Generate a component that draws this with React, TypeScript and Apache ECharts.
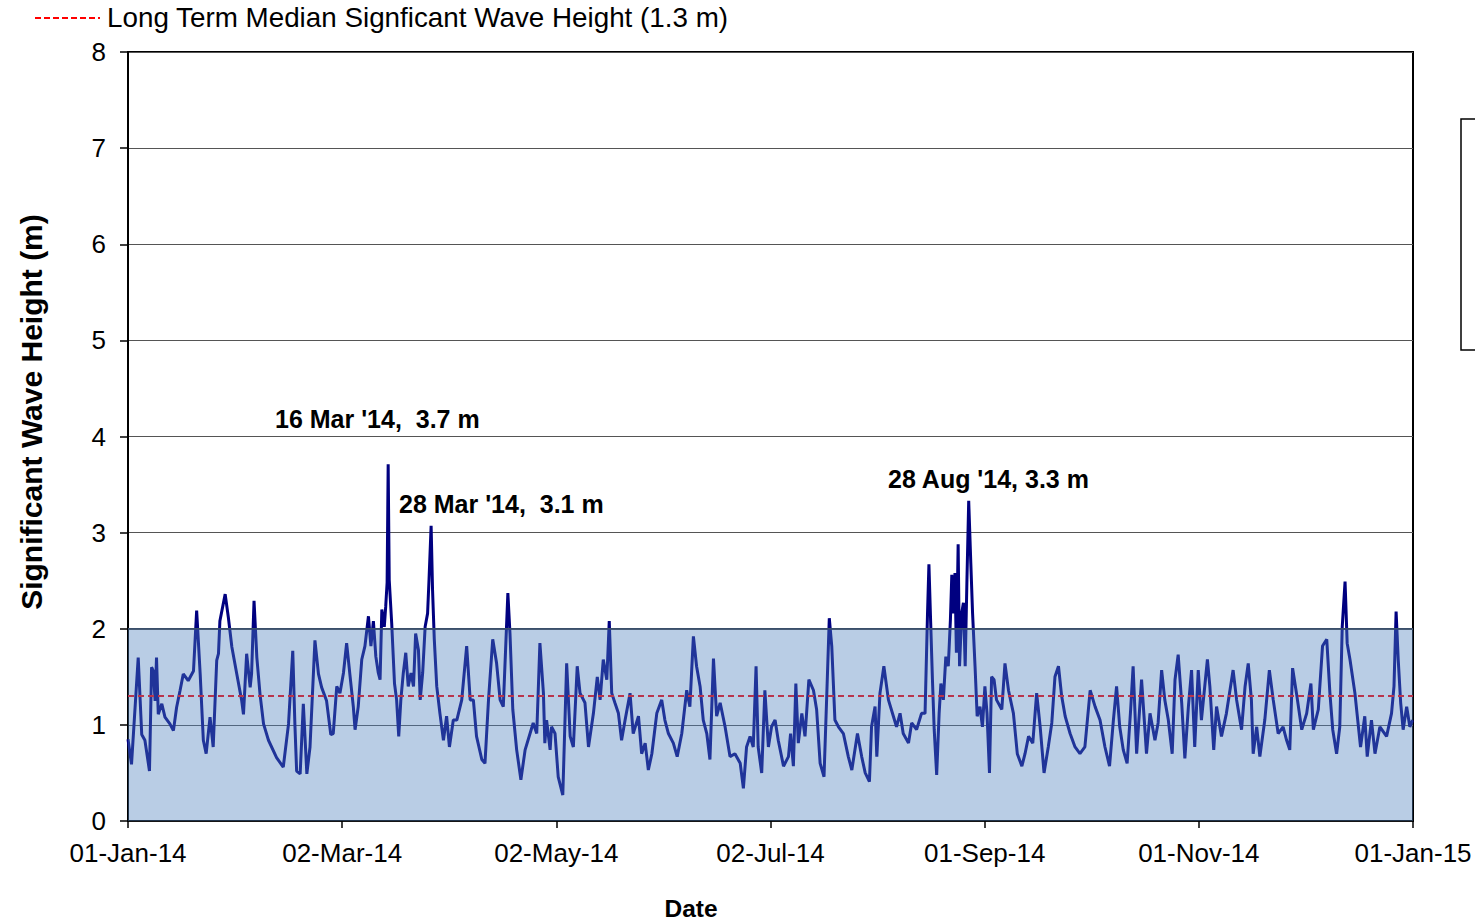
import { useEffect, useRef } from 'react';
import * as echarts from 'echarts';

// Day offsets from 01-Jan-14 and significant wave height (m)
const days = [
  0.0, 1.0, 2.9, 3.9, 4.8, 6.1, 6.7, 7.2, 7.7, 8.1, 8.6, 9.6, 10.5, 11.9, 12.9, 13.8, 14.8, 15.7, 17.1, 18.6,
  19.5, 20.5, 21.4, 22.2, 23.3, 24.2, 25.2, 25.7, 26.1, 27.6, 28.5, 29.5, 30.9, 32.3, 32.8, 33.7, 34.7, 35.1, 35.8, 36.6,
  37.5, 38.5, 39.9, 42.2, 44.1, 45.6, 46.8, 47.4, 47.9, 48.9, 49.8, 50.8, 51.7, 53.1, 54.1, 55.0, 56.4, 57.6, 58.3, 59.3,
  60.2, 61.2, 62.1, 63.1,
  64.0, 64.5, 65.4, 66.4, 67.3, 68.3, 69.0, 69.7, 70.4, 71.1, 71.6, 72.1, 72.8, 73.2, 73.6, 73.9, 74.2, 74.9, 75.7, 76.3,
  76.9, 77.5, 78.2, 78.9, 79.6, 80.4, 81.1, 81.7, 82.5, 83.0, 83.7, 84.4, 85.1, 85.5, 86.1, 86.5, 87.0, 87.7, 88.6, 89.6,
  90.5, 91.3, 92.4, 93.4, 94.8,
  96.2, 97.2, 98.1, 99.0, 100.5, 101.4, 102.4, 103.6, 104.7, 105.7, 106.6, 107.9, 108.5, 109.3, 110.4, 111.6, 112.8, 114.2, 115.1, 116.1,
  117.0, 118.0, 118.4, 118.9, 119.9, 120.3, 121.3, 122.2, 123.5, 123.8, 124.6, 125.6, 126.5, 127.6, 128.4, 129.8, 130.8, 132.2, 133.3, 134.1,
  135.0, 136.0, 136.7, 137.4, 138.3, 139.3, 140.2, 141.2, 142.6, 143.5, 145.0, 145.9, 146.9, 147.8, 148.8, 150.2, 151.6, 152.5, 153.5, 154.9,
  156.0, 157.3, 158.7, 159.6, 160.6, 161.5, 162.5, 163.4, 164.4, 165.3, 166.3, 167.2, 168.2, 169.6, 171.0, 172.4, 173.9, 174.8, 175.7, 176.7,
  177.6, 178.4, 179.0, 180.0, 180.9, 181.9, 182.8, 183.8, 184.7, 186.2, 187.6, 188.2, 189.0, 189.7, 190.4, 191.4, 192.3, 193.4, 194.7, 195.6,
  196.6, 197.7, 198.5, 199.2, 199.9, 200.8, 201.8, 203.2, 204.6, 205.6, 207.2, 208.4, 209.4, 210.6, 211.2, 212.2, 212.7, 213.6, 214.7, 216.0,
  217.4, 218.3, 219.3, 220.2, 221.7, 222.6, 224.0, 225.4,
  226.4, 227.1, 227.5, 228.0, 228.5, 229.0, 229.7, 230.4, 230.9, 231.6, 232.3, 233.0, 233.6, 234.0, 234.5, 234.9, 235.3, 235.8, 236.2, 236.8,
  237.3, 237.8, 238.3, 238.8, 239.4, 239.9, 240.6, 241.2, 242.0, 242.7, 243.4, 244.0, 244.7, 245.3, 246.0,
  246.7, 248.2, 249.1, 250.1,
  251.5, 252.6, 253.9, 254.8, 255.8, 257.0, 258.1, 259.1, 260.2, 261.4, 262.4, 263.3, 264.3, 265.2, 266.2, 267.6, 269.0, 270.4, 271.8, 273.3,
  274.7, 276.1, 277.5, 278.8, 279.9, 280.8, 281.7, 282.7, 283.8, 284.8, 285.5, 286.5, 287.9, 288.8, 289.3, 290.3, 291.7, 292.6, 293.6, 294.5,
  295.5, 296.6, 297.4, 298.3, 299.3, 300.2, 301.2, 302.1, 303.0, 304.0, 304.9, 306.6, 307.3, 308.4, 309.2, 310.6, 312.0, 313.9, 314.9, 316.3,
  317.3, 318.2, 319.1, 319.6, 320.6, 321.5, 322.9, 324.2, 325.3, 326.7, 328.1, 329.1, 330.0, 330.8, 331.9, 333.4, 334.8, 336.0, 336.7, 338.1,
  339.3, 340.5, 341.4, 342.2, 343.3, 344.2, 344.9, 345.7, 346.3, 347.1, 348.5, 349.5, 350.1, 351.3, 352.0, 353.2, 354.2, 355.6, 357.5, 358.9,
  359.6, 360.2, 360.8, 361.5, 362.2, 363.2, 364.1, 364.9,
];

const waveHeight = [
  0.85, 0.59, 1.70, 0.90, 0.84, 0.52, 1.60, 1.56, 1.25, 1.70, 1.11, 1.22, 1.08, 1.01, 0.94, 1.18, 1.36, 1.53, 1.46, 1.56,
  2.19, 1.53, 0.84, 0.70, 1.08, 0.77, 1.67, 1.74, 2.08, 2.36, 2.12, 1.81, 1.53, 1.25, 1.11, 1.74, 1.39, 1.53, 2.29, 1.70,
  1.32, 1.01, 0.84, 0.66, 0.56, 1.01, 1.77, 1.01, 0.52, 0.49, 1.22, 0.49, 0.77, 1.88, 1.53, 1.39, 1.25, 0.90, 0.91, 1.40,
  1.33, 1.54, 1.85, 1.50,
  1.19, 0.95, 1.19, 1.68, 1.82, 2.13, 1.82, 2.08, 1.71, 1.54, 1.47, 2.20, 2.02, 2.23, 2.48, 3.71, 2.51, 2.06, 1.43, 1.26,
  0.88, 1.26, 1.54, 1.75, 1.40, 1.54, 1.40, 1.95, 1.78, 1.26, 1.54, 2.02, 2.16, 2.51, 3.07, 2.41, 1.89, 1.40, 1.12, 0.84,
  1.09, 0.77, 1.05, 1.05, 1.26,
  1.82, 1.26, 1.26, 0.88, 0.64, 0.60, 1.26, 1.89, 1.64, 1.26, 1.19, 2.37, 1.95, 1.16, 0.74, 0.43, 0.74, 0.91, 1.02, 0.91,
  1.85, 1.33, 0.81, 1.05, 0.74, 0.98, 0.91, 0.46, 0.27, 0.64, 1.64, 0.88, 0.77, 1.61, 1.33, 1.23, 0.77, 1.12, 1.50, 1.26,
  1.68, 1.47, 2.08, 1.33, 1.23, 1.12, 0.84, 1.05, 1.33, 0.91, 1.09, 0.70, 0.81, 0.53, 0.70, 1.12, 1.26, 1.05, 0.91, 0.81,
  0.67, 0.91, 1.36, 1.19, 1.92, 1.61, 1.40, 1.05, 0.91, 0.64, 1.69, 1.09, 1.23, 0.98, 0.67, 0.70, 0.60, 0.34, 0.77, 0.88,
  0.77, 1.61, 0.77, 0.50, 1.36, 0.77, 0.98, 1.05, 0.84, 0.57, 0.67, 0.91, 0.57, 1.43, 0.81, 1.12, 0.88, 1.47, 1.36, 1.16,
  0.60, 0.46, 1.33, 2.11, 1.82, 1.05, 0.98, 0.91, 0.67, 0.53, 0.91, 0.67, 0.50, 0.41, 0.98, 1.19, 0.67, 1.33, 1.61, 1.26,
  1.09, 0.98, 1.12, 0.91, 0.81, 1.02, 0.95, 1.12,
  1.12, 2.16, 2.67, 2.06, 1.47, 0.95, 0.48, 1.12, 1.43, 1.26, 1.71, 1.61, 2.09, 2.56, 2.16, 2.58, 1.75, 2.88, 1.61, 2.16,
  2.27, 1.61, 2.51, 3.33, 2.68, 2.16, 1.61, 1.09, 1.19, 0.98, 1.40, 1.12, 0.50, 1.50, 1.47,
  1.26, 1.16, 1.64, 1.36,
  1.12, 0.70, 0.57, 0.70, 0.88, 0.81, 1.33, 0.98, 0.50, 0.77, 1.02, 1.50, 1.61, 1.30, 1.09, 0.91, 0.77, 0.70, 0.77, 1.36,
  1.19, 1.05, 0.77, 0.57, 1.05, 1.40, 0.98, 0.74, 0.60, 1.16, 1.61, 0.70, 1.47, 0.98, 0.70, 1.12, 0.84, 1.02, 1.57, 1.26,
  1.05, 0.70, 1.47, 1.73, 1.23, 0.65, 1.19, 1.57, 0.77, 1.57, 1.05, 1.68, 1.40, 0.74, 1.19, 0.88, 1.12, 1.57, 1.26, 0.95,
  1.40, 1.64, 1.26, 0.70, 0.98, 0.67, 1.05, 1.57, 1.26, 0.91, 0.98, 0.84, 0.74, 1.59, 1.33, 0.95, 1.12, 1.43, 0.95, 1.16,
  1.82, 1.89, 1.33, 0.95, 0.70, 0.98, 2.02, 2.49, 1.85, 1.68, 1.33, 0.98, 0.77, 1.09, 0.67, 1.05, 0.70, 0.98, 0.88, 1.12,
  1.40, 2.18, 1.68, 1.23, 0.95, 1.19, 0.98, 1.05,
];

const xTickLabels = ['01-Jan-14', '02-Mar-14', '02-May-14', '02-Jul-14', '01-Sep-14', '01-Nov-14', '01-Jan-15'];
const yMin = 0;
const yMax = 8;
const yInterval = 1;
const xMaxDays = 365;
const medianHeight = 1.3;
const bandUpper = 2;
const legendText = 'Long Term Median Signficant Wave Height (1.3 m)';
const yTitle = 'Significant Wave Height (m)';
const xTitle = 'Date';
const annotationTexts = ["16 Mar '14,  3.7 m", "28 Mar '14,  3.1 m", "28 Aug '14, 3.3 m"];

const FONT = '"Liberation Sans", Arial, Helvetica, sans-serif';

export default function App() {
  const ref = useRef<HTMLDivElement>(null);

  useEffect(() => {
    if (!ref.current) return;
    const chart = echarts.init(ref.current, undefined, { renderer: 'svg' });
    const tickDays = xTickLabels.map((_, i) => (i * xMaxDays) / (xTickLabels.length - 1));
    const waveData = days.map((d, i) => [d, waveHeight[i]]);

    const option: any = {
      animation: false,
      backgroundColor: '#ffffff',
      grid: {
        left: 128,
        right: 62,
        top: 52,
        bottom: 99,
        outerBoundsMode: 'none',
        containLabel: false,
        show: true,
        borderColor: '#000000',
        borderWidth: 2,
        backgroundColor: 'transparent',
      },
      xAxis: {
        type: 'value',
        min: 0,
        max: xMaxDays,
        axisLine: { show: true, onZero: false, lineStyle: { color: '#000', width: 1.5 } },
        axisTick: { show: true, length: 7, customValues: tickDays, lineStyle: { color: '#000', width: 1.5 } },
        axisLabel: {
          customValues: tickDays,
          margin: 19,
          fontFamily: FONT,
          fontSize: 26,
          color: '#000',
          formatter: (v: number) => {
            const idx = tickDays.findIndex((t) => Math.abs(t - v) < 0.01);
            return idx >= 0 ? xTickLabels[idx] : '';
          },
        },
        splitLine: { show: false },
      },
      yAxis: {
        type: 'value',
        min: yMin,
        max: yMax,
        interval: yInterval,
        axisLine: { show: true, lineStyle: { color: '#000', width: 2 } },
        axisTick: { show: true, length: 8, lineStyle: { color: '#000', width: 1.5 } },
        axisLabel: { margin: 22, fontFamily: FONT, fontSize: 26, color: '#000' },
        splitLine: { show: true, lineStyle: { color: '#555555', width: 1.2 } },
      },
      series: [
        {
          name: 'Significant Wave Height',
          type: 'line',
          data: waveData,
          showSymbol: false,
          symbol: 'none',
          z: 2,
          lineStyle: { color: '#000080', width: 3 },
        },
        {
          name: 'Median',
          type: 'line',
          data: [[0, medianHeight], [xMaxDays, medianHeight]],
          showSymbol: false,
          symbol: 'none',
          z: 3,
          lineStyle: { color: '#ff0000', width: 2, type: [6, 4] },
        },
        {
          name: 'Band',
          type: 'line',
          data: [[0, bandUpper], [xMaxDays, bandUpper]],
          showSymbol: false,
          symbol: 'none',
          z: 4,
          lineStyle: { color: '#3a4f6a', width: 1.5 },
          areaStyle: { color: 'rgba(79,129,189,0.4)', opacity: 1, origin: 'start' },
        },
      ],
      graphic: [
        {
          type: 'line',
          shape: { x1: 35, y1: 18, x2: 100, y2: 18 },
          style: { stroke: '#ff0000', lineWidth: 2, lineDash: [6, 3] },
        },
        {
          type: 'text',
          left: 107,
          top: 3,
          style: { text: legendText, fontFamily: FONT, fontSize: 27.8, fill: '#000' },
        },
        {
          type: 'rect',
          shape: { x: 1461, y: 119, width: 40, height: 231 },
          style: { fill: '#fff', stroke: '#000', lineWidth: 1.5 },
        },
        {
          type: 'text',
          x: 31,
          y: 412,
          rotation: Math.PI / 2,
          style: {
            text: yTitle,
            fontFamily: FONT,
            fontSize: 30,
            fontWeight: 'bold',
            fill: '#000',
            align: 'center',
            verticalAlign: 'middle',
          },
        },
        {
          type: 'text',
          x: 691,
          y: 908,
          style: {
            text: xTitle,
            fontFamily: FONT,
            fontSize: 24.5,
            fontWeight: 'bold',
            fill: '#000',
            align: 'center',
            verticalAlign: 'middle',
          },
        },
        {
          type: 'text',
          left: 275,
          top: 406,
          style: { text: annotationTexts[0], fontFamily: FONT, fontSize: 25, fontWeight: 'bold', fill: '#000' },
        },
        {
          type: 'text',
          left: 399,
          top: 491,
          style: { text: annotationTexts[1], fontFamily: FONT, fontSize: 25, fontWeight: 'bold', fill: '#000' },
        },
        {
          type: 'text',
          left: 888,
          top: 466,
          style: { text: annotationTexts[2], fontFamily: FONT, fontSize: 25, fontWeight: 'bold', fill: '#000' },
        },
      ],
    };

    chart.setOption(option);
    return () => {
      chart.dispose();
    };
  }, []);

  return (
    <div
      ref={ref}
      style={{ position: 'fixed', left: 0, top: 0, width: 1475, height: 920, background: '#fff' }}
    />
  );
}
